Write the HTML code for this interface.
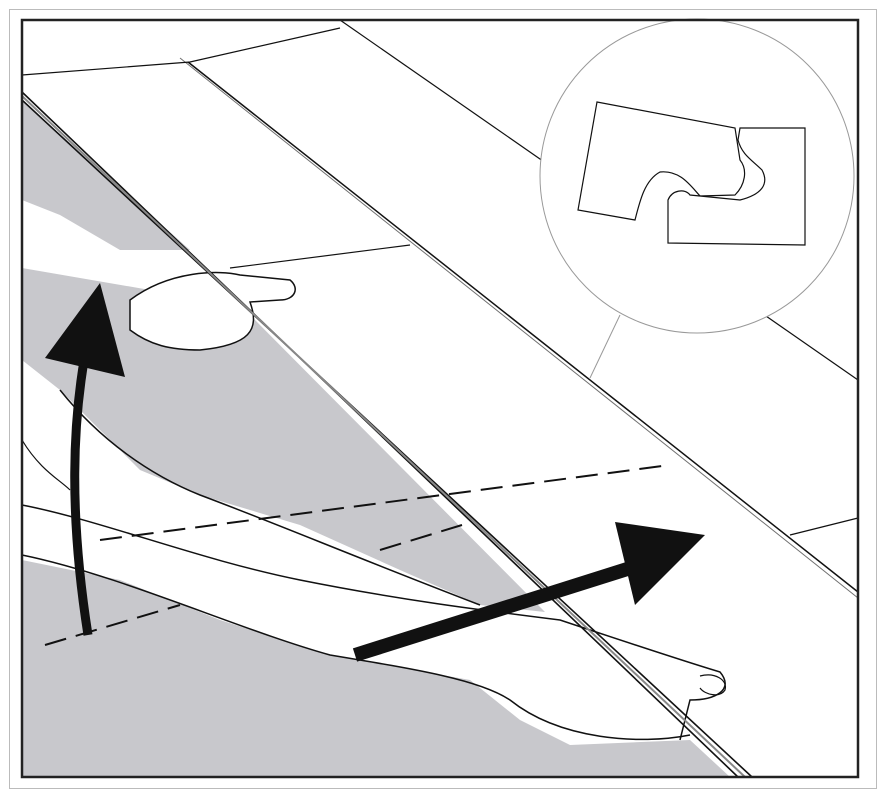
<!DOCTYPE html>
<html><head><meta charset="utf-8"><style>
html,body{margin:0;padding:0;background:#fff;width:886px;height:798px;overflow:hidden}
</style></head><body>
<svg width="886" height="798" viewBox="0 0 886 798" xmlns="http://www.w3.org/2000/svg">
<rect x="9.5" y="9.5" width="867" height="779" fill="#fff" stroke="#bbb" stroke-width="1"/>
<rect x="22" y="20" width="836" height="757" fill="#fff"/>
<!-- gray areas -->
<polygon points="22,100 190,250 120,250 60,215 22,200" fill="#c8c8cc"/>
<polygon points="22,268 150,290 200,300 245,310 545,612 480,605 400,570 300,525 200,495 140,470 100,430 60,390 22,360" fill="#c8c8cc"/>
<polygon points="22,560 120,580 220,620 330,655 470,680 520,720 570,745 690,740 730,777 22,777" fill="#c8c8cc"/>
<!-- hand/arm outlines -->
<path d="M22,555 C120,575 240,630 330,655 C420,670 480,680 510,700 C560,740 640,745 690,735" fill="none" stroke="#111" stroke-width="1.5"/>
<path d="M22,505 C100,520 200,560 300,580 C400,600 480,610 560,620 C620,640 680,660 720,672 C735,690 715,700 690,700 L680,740" fill="none" stroke="#111" stroke-width="1.5"/>
<path d="M60,390 C100,440 150,475 200,495 C280,525 350,555 480,605" fill="none" stroke="#111" stroke-width="1.5"/>
<path d="M130,300 C170,270 220,270 240,275 L290,280 C300,288 295,300 280,300 L250,302 C260,330 250,345 200,350 C170,350 150,345 130,330 Z" fill="#fff" stroke="#111" stroke-width="1.5"/>
<path d="M22,440 C40,470 60,480 70,490" fill="none" stroke="#111" stroke-width="1.2"/>
<path d="M700,676 C715,672 728,680 725,690 C720,698 705,695 700,688" fill="none" stroke="#111" stroke-width="1.2"/>
<!-- board lines -->
<path d="M22,75 C90,70 150,65 190,62 L340,28" fill="none" stroke="#111" stroke-width="1.2"/>
<line x1="340" y1="20" x2="858" y2="380" stroke="#111" stroke-width="1.2"/>
<line x1="188" y1="62" x2="858" y2="592" stroke="#111" stroke-width="1.5"/>
<line x1="180" y1="58" x2="858" y2="598" stroke="#111" stroke-width="1" opacity="0.6"/>
<line x1="230" y1="268" x2="410" y2="245" stroke="#111" stroke-width="1.2"/>
<line x1="790" y1="535" x2="858" y2="518" stroke="#111" stroke-width="1.2"/>
<line x1="22" y1="92" x2="738" y2="777" stroke="#111" stroke-width="1.6"/>
<line x1="22" y1="100" x2="752" y2="777" stroke="#111" stroke-width="1.6"/>
<line x1="22" y1="96" x2="745" y2="777" stroke="#888" stroke-width="2"/>
<!-- dashed lines -->
<line x1="100" y1="540" x2="670" y2="465" stroke="#111" stroke-width="2" stroke-dasharray="22,10"/>
<line x1="45" y1="645" x2="180" y2="605" stroke="#111" stroke-width="2" stroke-dasharray="22,10"/>
<line x1="380" y1="550" x2="462" y2="525" stroke="#111" stroke-width="2" stroke-dasharray="22,10"/>
<!-- circle detail -->
<circle cx="697" cy="176" r="157" fill="#fff" stroke="#999" stroke-width="1"/>
<line x1="620" y1="315" x2="590" y2="378" stroke="#999" stroke-width="1"/>
<path d="M597,102 L735,128 L740,160 C748,170 745,185 735,195 L700,196 C690,185 680,170 660,172 C645,180 640,200 635,220 L578,210 Z" fill="#fff" stroke="#111" stroke-width="1.2"/>
<path d="M740,128 L805,128 L805,245 L668,243 L668,200 C672,190 685,188 690,195 L740,200 C760,195 770,185 762,170 C752,160 742,155 738,140 Z" fill="#fff" stroke="#111" stroke-width="1.2"/>
<!-- arrows -->
<path d="M88,635 C70,520 70,420 90,330" fill="none" stroke="#111" stroke-width="9"/>
<polygon points="100,283 125,377 45,358" fill="#111"/>
<line x1="355" y1="655" x2="640" y2="565" stroke="#111" stroke-width="14"/>
<polygon points="705,535 615,522 635,605" fill="#111"/>
<!-- inner frame -->
<rect x="22" y="20" width="836" height="757" fill="none" stroke="#222" stroke-width="2.5"/>
</svg>
</body></html>
